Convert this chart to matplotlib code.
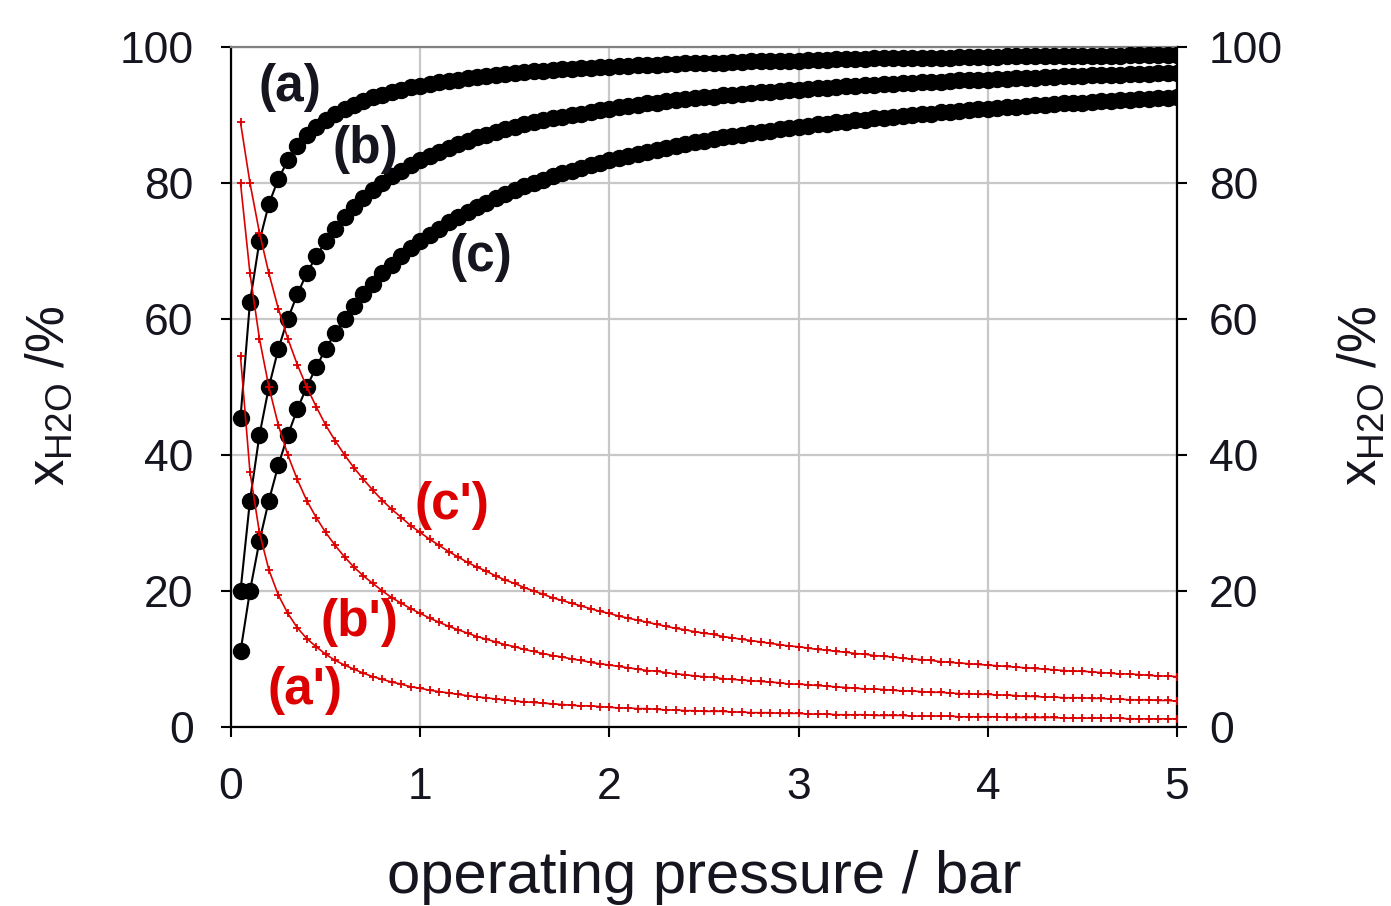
import numpy as np
import matplotlib
matplotlib.use('Agg')
import matplotlib.pyplot as plt

plt.rcParams['font.family'] = ['Liberation Sans', 'DejaVu Sans']
plt.rcParams['mathtext.fontset'] = 'custom'
plt.rcParams['mathtext.rm'] = 'Liberation Sans'

# operating pressure grid, bar (0.05 ... 5.00)
pressure = np.round(np.arange(1, 101) * 0.05, 2)

# water fraction in the product, %
x_a = [45.5, 62.5, 71.4, 76.9, 80.6, 83.3, 85.4, 87.0, 88.2, 89.3,
       90.2, 90.9, 91.5, 92.1, 92.6, 93.0, 93.4, 93.7, 94.1, 94.3,
       94.6, 94.8, 95.0, 95.2, 95.4, 95.6, 95.7, 95.9, 96.0, 96.2,
       96.3, 96.4, 96.5, 96.6, 96.7, 96.8, 96.9, 96.9, 97.0, 97.1,
       97.2, 97.2, 97.3, 97.3, 97.4, 97.5, 97.5, 97.6, 97.6, 97.7,
       97.7, 97.7, 97.8, 97.8, 97.9, 97.9, 97.9, 98.0, 98.0, 98.0,
       98.1, 98.1, 98.1, 98.2, 98.2, 98.2, 98.2, 98.3, 98.3, 98.3,
       98.3, 98.4, 98.4, 98.4, 98.4, 98.4, 98.5, 98.5, 98.5, 98.5,
       98.5, 98.6, 98.6, 98.6, 98.6, 98.6, 98.6, 98.7, 98.7, 98.7,
       98.7, 98.7, 98.7, 98.7, 98.8, 98.8, 98.8, 98.8, 98.8, 98.8]
x_b = [20.0, 33.3, 42.9, 50.0, 55.6, 60.0, 63.6, 66.7, 69.2, 71.4,
       73.3, 75.0, 76.5, 77.8, 78.9, 80.0, 81.0, 81.8, 82.6, 83.3,
       84.0, 84.6, 85.2, 85.7, 86.2, 86.7, 87.1, 87.5, 87.9, 88.2,
       88.6, 88.9, 89.2, 89.5, 89.7, 90.0, 90.2, 90.5, 90.7, 90.9,
       91.1, 91.3, 91.5, 91.7, 91.8, 92.0, 92.2, 92.3, 92.5, 92.6,
       92.7, 92.9, 93.0, 93.1, 93.2, 93.3, 93.4, 93.5, 93.7, 93.7,
       93.8, 93.9, 94.0, 94.1, 94.2, 94.3, 94.4, 94.4, 94.5, 94.6,
       94.7, 94.7, 94.8, 94.9, 94.9, 95.0, 95.1, 95.1, 95.2, 95.2,
       95.3, 95.3, 95.4, 95.5, 95.5, 95.6, 95.6, 95.7, 95.7, 95.7,
       95.8, 95.8, 95.9, 95.9, 96.0, 96.0, 96.0, 96.1, 96.1, 96.2]
x_c = [11.1, 20.0, 27.3, 33.3, 38.5, 42.9, 46.7, 50.0, 52.9, 55.6,
       57.9, 60.0, 61.9, 63.6, 65.2, 66.7, 68.0, 69.2, 70.4, 71.4,
       72.4, 73.3, 74.2, 75.0, 75.8, 76.5, 77.1, 77.8, 78.4, 78.9,
       79.5, 80.0, 80.5, 81.0, 81.4, 81.8, 82.2, 82.6, 83.0, 83.3,
       83.7, 84.0, 84.3, 84.6, 84.9, 85.2, 85.5, 85.7, 86.0, 86.2,
       86.4, 86.7, 86.9, 87.1, 87.3, 87.5, 87.7, 87.9, 88.1, 88.2,
       88.4, 88.6, 88.7, 88.9, 89.0, 89.2, 89.3, 89.5, 89.6, 89.7,
       89.9, 90.0, 90.1, 90.2, 90.4, 90.5, 90.6, 90.7, 90.8, 90.9,
       91.0, 91.1, 91.2, 91.3, 91.4, 91.5, 91.6, 91.7, 91.8, 91.8,
       91.9, 92.0, 92.1, 92.2, 92.2, 92.3, 92.4, 92.5, 92.5, 92.6]

# water fraction in the retentate, %
x_a2 = [54.5, 37.5, 28.6, 23.1, 19.4, 16.7, 14.6, 13.0, 11.8, 10.7,
        9.8, 9.1, 8.5, 7.9, 7.4, 7.0, 6.6, 6.3, 5.9, 5.7,
        5.4, 5.2, 5.0, 4.8, 4.6, 4.4, 4.3, 4.1, 4.0, 3.8,
        3.7, 3.6, 3.5, 3.4, 3.3, 3.2, 3.1, 3.1, 3.0, 2.9,
        2.8, 2.8, 2.7, 2.7, 2.6, 2.5, 2.5, 2.4, 2.4, 2.3,
        2.3, 2.3, 2.2, 2.2, 2.1, 2.1, 2.1, 2.0, 2.0, 2.0,
        1.9, 1.9, 1.9, 1.8, 1.8, 1.8, 1.8, 1.7, 1.7, 1.7,
        1.7, 1.6, 1.6, 1.6, 1.6, 1.6, 1.5, 1.5, 1.5, 1.5,
        1.5, 1.4, 1.4, 1.4, 1.4, 1.4, 1.4, 1.3, 1.3, 1.3,
        1.3, 1.3, 1.3, 1.3, 1.2, 1.2, 1.2, 1.2, 1.2, 1.2]
x_b2 = [80.0, 66.7, 57.1, 50.0, 44.4, 40.0, 36.4, 33.3, 30.8, 28.6,
        26.7, 25.0, 23.5, 22.2, 21.1, 20.0, 19.0, 18.2, 17.4, 16.7,
        16.0, 15.4, 14.8, 14.3, 13.8, 13.3, 12.9, 12.5, 12.1, 11.8,
        11.4, 11.1, 10.8, 10.5, 10.3, 10.0, 9.8, 9.5, 9.3, 9.1,
        8.9, 8.7, 8.5, 8.3, 8.2, 8.0, 7.8, 7.7, 7.5, 7.4,
        7.3, 7.1, 7.0, 6.9, 6.8, 6.7, 6.6, 6.5, 6.3, 6.3,
        6.2, 6.1, 6.0, 5.9, 5.8, 5.7, 5.6, 5.6, 5.5, 5.4,
        5.3, 5.3, 5.2, 5.1, 5.1, 5.0, 4.9, 4.9, 4.8, 4.8,
        4.7, 4.7, 4.6, 4.5, 4.5, 4.4, 4.4, 4.3, 4.3, 4.3,
        4.2, 4.2, 4.1, 4.1, 4.0, 4.0, 4.0, 3.9, 3.9, 3.8]
x_c2 = [88.9, 80.0, 72.7, 66.7, 61.5, 57.1, 53.3, 50.0, 47.1, 44.4,
        42.1, 40.0, 38.1, 36.4, 34.8, 33.3, 32.0, 30.8, 29.6, 28.6,
        27.6, 26.7, 25.8, 25.0, 24.2, 23.5, 22.9, 22.2, 21.6, 21.1,
        20.5, 20.0, 19.5, 19.0, 18.6, 18.2, 17.8, 17.4, 17.0, 16.7,
        16.3, 16.0, 15.7, 15.4, 15.1, 14.8, 14.5, 14.3, 14.0, 13.8,
        13.6, 13.3, 13.1, 12.9, 12.7, 12.5, 12.3, 12.1, 11.9, 11.8,
        11.6, 11.4, 11.3, 11.1, 11.0, 10.8, 10.7, 10.5, 10.4, 10.3,
        10.1, 10.0, 9.9, 9.8, 9.6, 9.5, 9.4, 9.3, 9.2, 9.1,
        9.0, 8.9, 8.8, 8.7, 8.6, 8.5, 8.4, 8.3, 8.2, 8.2,
        8.1, 8.0, 7.9, 7.8, 7.8, 7.7, 7.6, 7.5, 7.5, 7.4]

curve_labels = ['(a)', '(b)', '(c)', "(a')", "(b')", "(c')"]
x_ticks = [0, 1, 2, 3, 4, 5]
y_ticks = [0, 20, 40, 60, 80, 100]

RED = '#DC0000'
TEXT = '#15151f'

fig = plt.figure(figsize=(13.91, 9.06), dpi=100)
ax = fig.add_axes([0.1661, 0.1976, 0.6801, 0.7506])

for ys in (x_a, x_b, x_c):
    ax.plot(pressure, ys, color='black', lw=1.5, marker='o', ms=11.5,
            mec='black', mfc='black', zorder=3)
for ys in (x_a2, x_b2, x_c2):
    ax.plot(pressure, ys, color=RED, lw=1.2, marker='+', ms=5.5, mew=1.3,
            zorder=4)

ax.set_xlim(0, 5)
ax.set_ylim(0, 100)
ax.set_xticks(x_ticks)
ax.set_yticks(y_ticks)
ax.grid(True, color='#c8c8c8', lw=1.6)
ax.set_axisbelow(True)

for side in ('left', 'bottom', 'right'):
    ax.spines[side].set_linewidth(1.6)
    ax.spines[side].set_color('black')
ax.spines['top'].set_color('#808080')
ax.spines['top'].set_linewidth(1.6)

ax.tick_params(axis='both', direction='out', length=7, width=1.5,
               labelsize=32, labelcolor=TEXT)
ax.tick_params(axis='x', pad=22)
ax.tick_params(axis='y', pad=20)

ax2 = ax.twinx()
ax2.set_ylim(0, 100)
ax2.set_yticks(y_ticks)
ax2.tick_params(axis='y', direction='out', length=7, width=1.5,
                labelsize=32, labelcolor=TEXT, pad=16)
for sp in ax2.spines.values():
    sp.set_visible(False)

# curve tags
tag_pos = [(0.31, 94.0), (0.71, 84.9), (1.32, 69.0),
           (0.39, 5.4), (0.68, 15.4), (1.17, 32.6)]
tag_col = [TEXT, TEXT, TEXT, RED, RED, RED]
for lab, (tx, ty), col in zip(curve_labels, tag_pos, tag_col):
    ax.text(tx, ty, lab, color=col, fontsize=37, fontweight='bold',
            ha='center', va='center', zorder=5)

fig.text(704 / 1391, 1 - 893 / 906, 'operating pressure / bar',
         fontsize=43, color=TEXT, ha='center', va='baseline')

ylab = r'x$_{\mathregular{H2O}}$ /%'
fig.text(50 / 1391, 1 - 396 / 906, ylab, fontsize=38, color=TEXT,
         rotation=90, ha='center', va='center')
fig.text(1362 / 1391, 1 - 396 / 906, ylab, fontsize=38, color=TEXT,
         rotation=90, ha='center', va='center')

fig.savefig('out.png', dpi=100)
